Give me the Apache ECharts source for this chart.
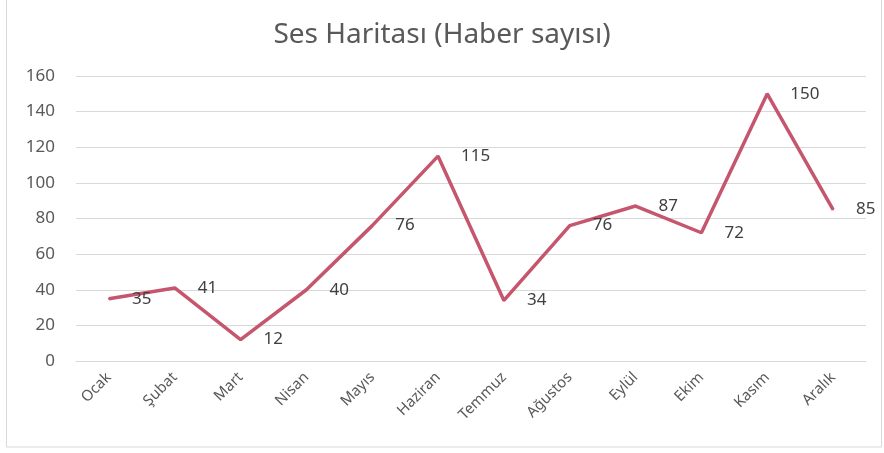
<!DOCTYPE html>
<html><head><meta charset="utf-8">
<script src="https://cdn.jsdelivr.net/npm/echarts@6/dist/echarts.min.js"></script>
<style>html,body{margin:0;padding:0;background:#fff}#c{width:884px;height:453px}</style>
</head><body><div id="c"></div>
<script>
const months = ['Ocak','Şubat','Mart','Nisan','Mayıs','Haziran','Temmuz','Ağustos','Eylül','Ekim','Kasım','Aralık'];
const counts = [35,41,12,40,76,115,34,76,87,72,150,85];
const chart = echarts.init(document.getElementById('c'));
chart.setOption({
  animation:false,
  backgroundColor:'#fff',
  graphic:[{type:'rect',shape:{x:6.5,y:-2,width:875,height:449},style:{fill:'none',stroke:'#d9d9d9',lineWidth:1}}],
  title:{text:'Ses Haritası (Haber sayısı)',left:'center',top:16,
    textStyle:{fontFamily:'Noto Sans',fontSize:28,fontWeight:'normal',color:'#595959'}},
  grid:{left:76,right:18,top:76,bottom:92},
  xAxis:{type:'category',data:months,boundaryGap:true,
    axisLine:{lineStyle:{color:'#d9d9d9'}},axisTick:{show:false},
    axisLabel:{rotate:45,color:'#595959',fontFamily:'Noto Sans',fontSize:15,margin:14}},
  yAxis:{type:'value',min:0,max:160,interval:20,
    axisLine:{show:false},axisTick:{show:false},
    splitLine:{lineStyle:{color:'#d9d9d9'}},
    axisLabel:{color:'#595959',fontFamily:'Noto Sans',fontSize:17,margin:21}},
  series:[{type:'line',data:counts,symbol:'circle',symbolSize:2,showSymbol:true,
    itemStyle:{color:'#C5566E'},
    lineStyle:{color:'#C5566E',width:3.5},
    label:{show:true,position:'right',distance:22,color:'#404040',fontFamily:'Noto Sans',fontSize:17}}]
});
</script></body></html>
